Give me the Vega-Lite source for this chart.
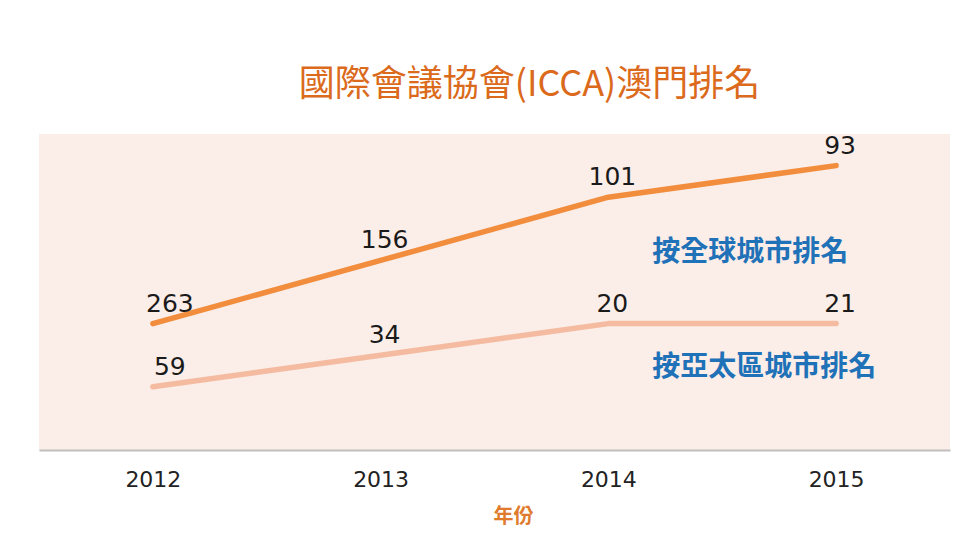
{
  "$schema": "https://vega.github.io/schema/vega-lite/v6.json",
  "autosize": "none",
  "width": 911,
  "height": 316,
  "padding": {"left": 39, "top": 134, "right": 13, "bottom": 94},
  "background": "#FFFFFF",
  "config": {
    "view": {"fill": "#FBEDE7", "stroke": null},
    "font": "DejaVu Sans"
  },
  "title": {
    "text": "國際會議協會(ICCA)澳門排名",
    "font": "Noto Sans CJK TC",
    "fontSize": 36,
    "fontWeight": "normal",
    "color": "#DB6A1C",
    "anchor": "middle",
    "dx": 35,
    "offset": 30
  },
  "data": {
    "values": [
      {"year": "2012", "series": "按全球城市排名", "level": 40, "rank": 263},
      {"year": "2013", "series": "按全球城市排名", "level": 60, "rank": 156},
      {"year": "2014", "series": "按全球城市排名", "level": 80, "rank": 101},
      {"year": "2015", "series": "按全球城市排名", "level": 90, "rank": 93},
      {"year": "2012", "series": "按亞太區城市排名", "level": 20, "rank": 59},
      {"year": "2013", "series": "按亞太區城市排名", "level": 30, "rank": 34},
      {"year": "2014", "series": "按亞太區城市排名", "level": 40, "rank": 20},
      {"year": "2015", "series": "按亞太區城市排名", "level": 40, "rank": 21}
    ]
  },
  "encoding": {
    "x": {
      "field": "year",
      "type": "ordinal",
      "scale": {"type": "point", "padding": 0.5},
      "title": "年份",
      "axis": {
        "labelAngle": 0,
        "labelFontSize": 22,
        "labelColor": "#222222",
        "labelPadding": 19,
        "ticks": false,
        "domainColor": "#BFBFBF",
        "domainWidth": 2,
        "titleFont": "Noto Sans CJK TC",
        "titleFontSize": 20,
        "titleFontWeight": "bold",
        "titleColor": "#E07A2C",
        "titlePadding": 16,
        "titleX": 474
      }
    },
    "y": {
      "field": "level",
      "type": "quantitative",
      "scale": {"domain": [0, 100]},
      "axis": null
    }
  },
  "layer": [
    {
      "mark": {"type": "line", "strokeWidth": 5.5, "strokeCap": "round", "strokeJoin": "round"},
      "encoding": {
        "color": {
          "field": "series",
          "type": "nominal",
          "scale": {"domain": ["按全球城市排名", "按亞太區城市排名"], "range": ["#F18D3D", "#F5BBA1"]},
          "legend": null
        }
      }
    },
    {
      "mark": {"type": "text", "fontSize": 25, "color": "#1A1A1A", "dy": -20, "dx": {"expr": "datum.year == '2012' ? 17 : 4"}, "baseline": "middle"},
      "encoding": {
        "text": {"field": "rank", "type": "quantitative"}
      }
    },
    {
      "transform": [{"filter": "datum.year == '2015' && datum.series == '按全球城市排名'"}],
      "mark": {"type": "text", "font": "Noto Sans CJK TC", "fontSize": 28, "fontWeight": "bold", "color": "#1F72B8", "align": "left", "baseline": "middle", "dx": -184, "dy": 87},
      "encoding": {"text": {"field": "series", "type": "nominal"}}
    },
    {
      "transform": [{"filter": "datum.year == '2015' && datum.series == '按亞太區城市排名'"}],
      "mark": {"type": "text", "font": "Noto Sans CJK TC", "fontSize": 28, "fontWeight": "bold", "color": "#1F72B8", "align": "left", "baseline": "middle", "dx": -184, "dy": 44},
      "encoding": {"text": {"field": "series", "type": "nominal"}}
    }
  ]
}
